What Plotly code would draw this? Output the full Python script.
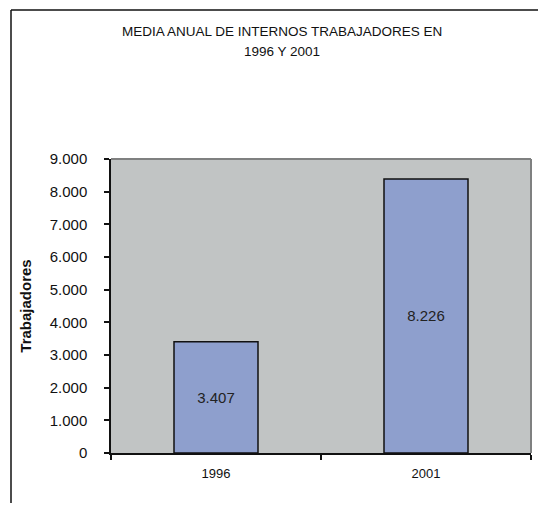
import plotly.graph_objects as go

categories = ["1996", "2001"]
values = [3407, 8390]
value_labels = ["3.407", "8.226"]
y_ticks = [0, 1000, 2000, 3000, 4000, 5000, 6000, 7000, 8000, 9000]
title_lines = ["MEDIA ANUAL DE INTERNOS TRABAJADORES EN", "1996 Y 2001"]

FONT = "Liberation Sans, Arial, sans-serif"

fig = go.Figure()
fig.add_trace(go.Bar(
    x=categories, y=values, width=0.4,
    marker=dict(color="#8E9FCD", line=dict(color="#111111", width=1.5)),
    text=value_labels, textposition="inside", insidetextanchor="middle",
    textfont=dict(family=FONT, size=15, color="#222222"),
    hoverinfo="skip",
))

# page has 8px body margin; figure sized so the plot area lands at x 111..531, y 159..453
fig.update_layout(
    width=530, height=495,
    margin=dict(l=103, r=7, t=151, b=50),
    paper_bgcolor="white", plot_bgcolor="#C1C4C4",
    separators=",.",
    showlegend=False,
    font=dict(family=FONT, color="#111111"),
    annotations=[
        dict(text=title_lines[0], xref="paper", yref="paper",
             x=(282 - 111) / 420, y=(453 - 31) / 294,
             xanchor="center", yanchor="middle", showarrow=False,
             font=dict(size=13.5, color="#111111")),
        dict(text=title_lines[1], xref="paper", yref="paper",
             x=(282 - 111) / 420, y=(453 - 51) / 294,
             xanchor="center", yanchor="middle", showarrow=False,
             font=dict(size=13.5, color="#111111")),
    ],
    shapes=[
        dict(type="line", xref="paper", yref="paper", x0=0, x1=1, y0=1, y1=1,
             line=dict(color="#7F8080", width=2)),
        dict(type="line", xref="paper", yref="paper", x0=1, x1=1, y0=0, y1=1,
             line=dict(color="#7F8080", width=2)),
        dict(type="line", xref="paper", yref="paper",
             x0=(11 - 111) / 420, x1=(11 - 111) / 420, y0=-1, y1=(453 - 10) / 294,
             line=dict(color="#111111", width=1.5)),
        dict(type="line", xref="paper", yref="paper",
             x0=(11 - 111) / 420, x1=1.2, y0=(453 - 10) / 294, y1=(453 - 10) / 294,
             line=dict(color="#111111", width=1.5)),
    ],
)

fig.update_xaxes(
    type="category", tickson="boundaries", ticks="outside", ticklen=5,
    tickcolor="#111111", tickwidth=1.5,
    showline=True, linecolor="#111111", linewidth=1.5,
    showgrid=False, tickfont=dict(size=13, color="#111111"),
    ticklabelstandoff=8,
    range=[-0.5, 1.5],
)
fig.update_yaxes(
    range=[0, 9000], tickvals=y_ticks, tickformat=",d",
    ticks="outside", ticklen=5, tickcolor="#111111", tickwidth=1.5,
    showline=True, linecolor="#111111", linewidth=1.5,
    showgrid=False, zeroline=False,
    tickfont=dict(size=15, color="#111111"),
    ticklabelstandoff=14,
    title=dict(text="<b>Trabajadores</b>", font=dict(size=15, color="#111111"), standoff=14),
)

fig.write_html("out.html")
